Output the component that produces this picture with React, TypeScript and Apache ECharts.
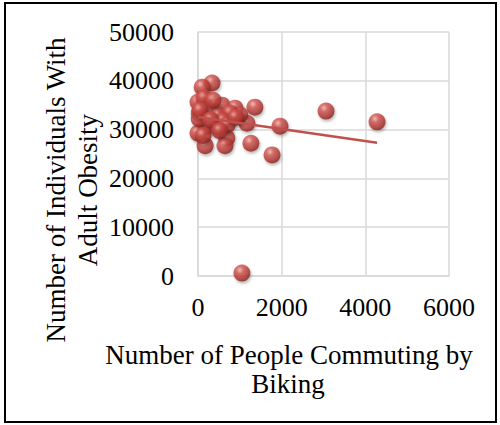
import React, { useEffect, useRef } from "react";
import * as echarts from "echarts";

const bikeCommuters = [335, 100, 0, 143, 240, 575, 885, 1360, 3060, 4280, 1960, 1170, 1000, 215, 0, 170, 690, 645, 1265, 1770, 1050, 30, 30, 480, 765, 455, 50, 360, 600, 300, 700, 120, 520, 900];
const adultObesity = [39550, 38700, 35650, 36500, 34000, 35000, 34400, 34600, 33800, 31600, 30700, 31300, 33000, 30700, 29300, 26700, 28300, 26700, 27200, 24800, 600, 33400, 32200, 33000, 33400, 30600, 34000, 36000, 31800, 32000, 31000, 28800, 29800, 32500];
const trendX = [0, 4280];
const trendY = [32600, 27300];
const xTitle = ["Number of People Commuting by", "Biking"];
const yTitle = ["Number of Individuals With", "Adult Obesity"];

export default function App() {
  const ref = useRef<HTMLDivElement>(null);
  useEffect(() => {
    document.body.style.margin = "0";
    const chart = echarts.init(ref.current!, null, { renderer: "svg" });
    const font = "'Liberation Serif', 'Times New Roman', serif";
    const sphere = {
      type: "radial",
      x: 0.38,
      y: 0.32,
      r: 0.72,
      colorStops: [
        { offset: 0, color: "#f6b3b0" },
        { offset: 0.3, color: "#d2554f" },
        { offset: 0.75, color: "#a8302b" },
        { offset: 1, color: "#7c1c18" },
      ],
    };
    const fmt = (v: number) => String(v);
    chart.setOption({
      animation: false,
      backgroundColor: "#ffffff",
      grid: { left: 198, right: 51, top: 32, bottom: 149 },
      xAxis: {
        type: "value",
        min: 0,
        max: 6000,
        interval: 2000,
        axisLine: { show: true, lineStyle: { color: "#d9d9d9", width: 1.5 } },
        axisTick: { show: false },
        splitLine: { show: true, lineStyle: { color: "#d9d9d9", width: 1.5 } },
        axisLabel: { color: "#000", fontFamily: font, fontSize: 26, margin: 18, formatter: fmt },
      },
      yAxis: {
        type: "value",
        min: 0,
        max: 50000,
        interval: 10000,
        axisLine: { show: true, lineStyle: { color: "#d9d9d9", width: 1.5 } },
        axisTick: { show: false },
        splitLine: { show: true, lineStyle: { color: "#d9d9d9", width: 1.5 } },
        axisLabel: { color: "#000", fontFamily: font, fontSize: 26, margin: 24, formatter: fmt },
      },
      series: [
        {
          type: "scatter",
          data: bikeCommuters.map((x, i) => [x, adultObesity[i]]),
          symbol: "circle",
          symbolSize: 17,
          itemStyle: {
            color: sphere,
            shadowBlur: 3,
            shadowColor: "rgba(0,0,0,0.35)",
            shadowOffsetX: 1,
            shadowOffsetY: 2,
          },
          z: 2,
        },
        {
          type: "line",
          data: trendX.map((x, i) => [x, trendY[i]]),
          symbol: "none",
          lineStyle: { color: "#c0504d", width: 2.5 },
          z: 3,
        },
      ],
      graphic: [
        {
          type: "rect",
          shape: { x: 5, y: 3, width: 491, height: 419 },
          style: { fill: "none", stroke: "#000", lineWidth: 2 },
          silent: true,
        },
        {
          type: "text",
          x: 56,
          y: 190,
          rotation: Math.PI / 2,
          style: { text: yTitle[0], font: `27px ${font}`, fill: "#000", textAlign: "center", textVerticalAlign: "middle" },
        },
        {
          type: "text",
          x: 88,
          y: 190,
          rotation: Math.PI / 2,
          style: { text: yTitle[1], font: `27px ${font}`, fill: "#000", textAlign: "center", textVerticalAlign: "middle" },
        },
        {
          type: "text",
          x: 289,
          y: 355,
          style: { text: xTitle[0], font: `27px ${font}`, fill: "#000", textAlign: "center", textVerticalAlign: "middle" },
        },
        {
          type: "text",
          x: 288,
          y: 384,
          style: { text: xTitle[1], font: `27px ${font}`, fill: "#000", textAlign: "center", textVerticalAlign: "middle" },
        },
      ],
    });
    return () => chart.dispose();
  }, []);
  return <div ref={ref} style={{ position: "absolute", left: 0, top: 0, width: 500, height: 425 }} />;
}
